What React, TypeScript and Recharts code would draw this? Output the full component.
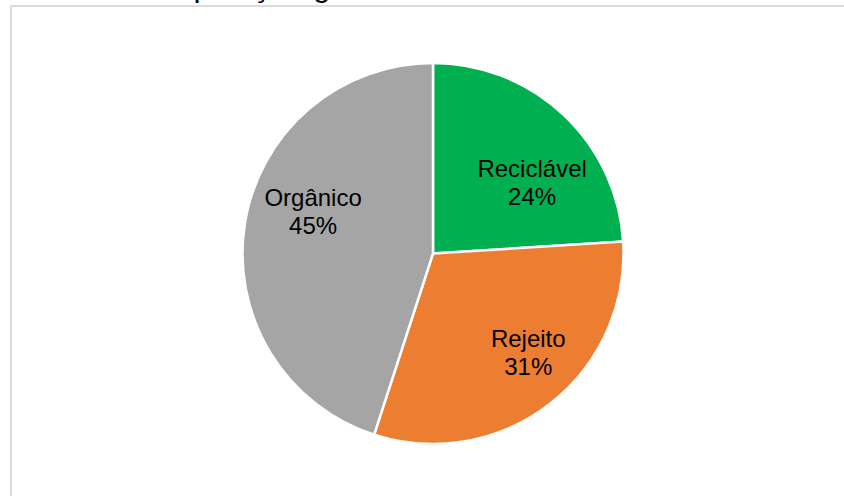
import React from "react";
import { PieChart, Pie, Cell } from "recharts";

const categories = ["Reciclável", "Rejeito", "Orgânico"];
const values = [24, 31, 45];
const colors = ["#00B050", "#ED7D31", "#A5A5A5"];
const titleText = "Composição gravimétrica dos resíduos sólidos";

// label placement tweaks (Excel "best fit" style), kept apart from the data
const labelAngleNudge = [-11.2, 6.2, -10.3];
const labelRadiusFrac = [0.64, 0.72, 0.667];

const data = categories.map((name, i) => ({ name, value: values[i] }));

const RAD = Math.PI / 180;

const renderLabel = (props: any) => {
  const { cx, cy, midAngle, outerRadius, index, percent, name } = props;
  const ang = midAngle + labelAngleNudge[index];
  const r = outerRadius * labelRadiusFrac[index];
  const x = cx + r * Math.cos(-ang * RAD);
  const y = cy + r * Math.sin(-ang * RAD);
  return (
    <text
      x={x}
      y={y - 5.5}
      textAnchor="middle"
      fill="#000"
      fontFamily="'Liberation Sans', Arial, sans-serif"
      fontSize={24}
    >
      <tspan x={x} dy={0}>{name}</tspan>
      <tspan x={x} dy={28}>{Math.round(percent * 100) + "%"}</tspan>
    </text>
  );
};

export default function App() {
  return (
    <div
      style={{
        position: "fixed",
        left: 0,
        top: 0,
        width: 844,
        height: 496,
        overflow: "hidden",
        background: "#fff",
      }}
    >
      <div
        style={{
          position: "absolute",
          left: 10,
          top: 5,
          width: 900,
          height: 600,
          border: "2px solid #dcdcdc",
          boxSizing: "border-box",
        }}
      />
      <svg
        width={844}
        height={20}
        style={{ position: "absolute", left: 0, top: 0 }}
      >
        <text
          x={126}
          y={-4}
          fontFamily="'Liberation Sans', Arial, sans-serif"
          fontSize={32}
          fill="#000"
        >
          {titleText}
        </text>
      </svg>
      <div style={{ position: "absolute", left: 0, top: 0 }}>
        <PieChart
          width={844}
          height={496}
          margin={{ top: 0, right: 0, bottom: 0, left: 0 }}
        >
          <Pie
            data={data}
            dataKey="value"
            nameKey="name"
            cx={433}
            cy={253.5}
            outerRadius={190.5}
            startAngle={90}
            endAngle={-270}
            stroke="#ffffff"
            strokeWidth={2.5}
            label={renderLabel}
            labelLine={false}
            isAnimationActive={false}
          >
            {data.map((d, i) => (
              <Cell key={d.name} fill={colors[i]} />
            ))}
          </Pie>
        </PieChart>
      </div>
    </div>
  );
}
